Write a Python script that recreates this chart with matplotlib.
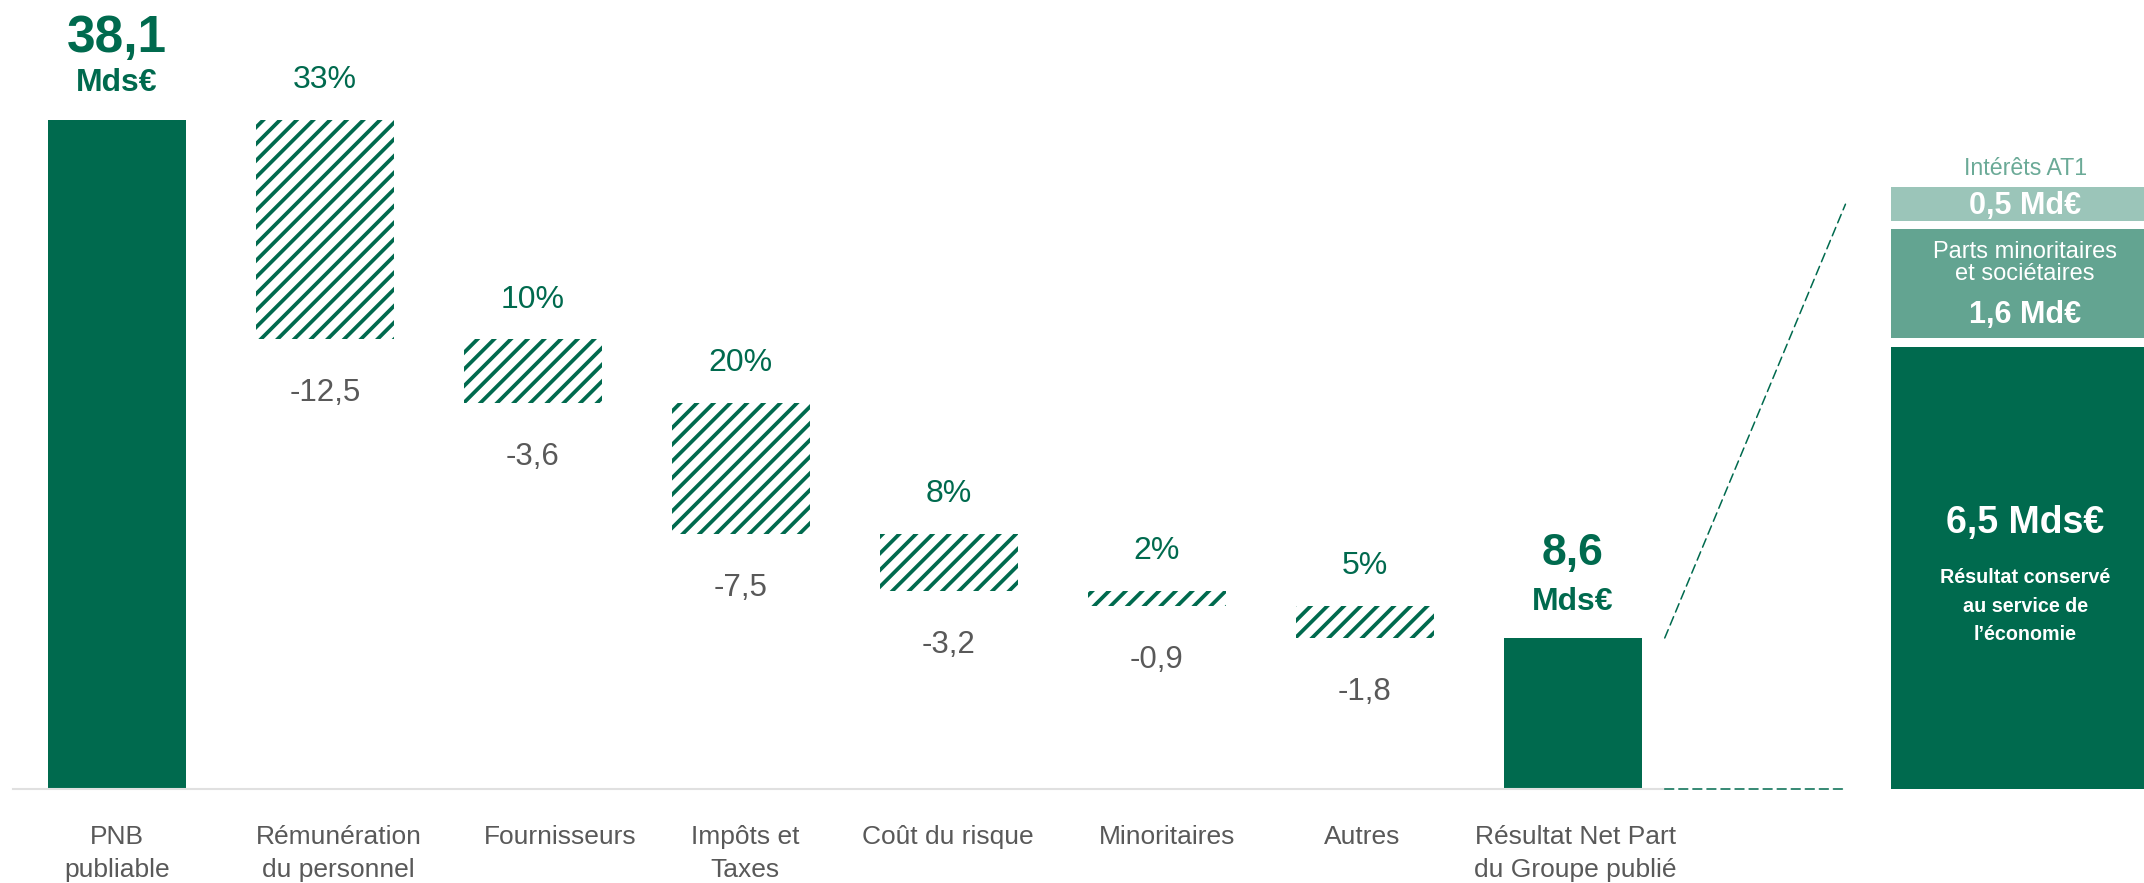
import numpy as np
import matplotlib
matplotlib.use("Agg")
import matplotlib.pyplot as plt
import matplotlib.transforms as mtransforms
from matplotlib.patches import ConnectionPatch

plt.rcParams['font.family'] = ['Liberation Sans', 'DejaVu Sans']
plt.rcParams['hatch.linewidth'] = 2.7

# data
categories = ["PNB\npubliable", "Rémunération\ndu personnel", "Fournisseurs",
              "Impôts et\nTaxes", "Coût du risque", "Minoritaires", "Autres",
              "Résultat Net Part\ndu Groupe publié"]
pnb = 38.1
charges = [-12.5, -3.6, -7.5, -3.2, -0.9, -1.8]
shares = ["33%", "10%", "20%", "8%", "2%", "5%"]
rnpg = 8.6

split_values = [6.5, 1.6, 0.5]
split_amounts = ["6,5 Mds€", "1,6 Md€", "0,5 Md€"]
split_titles = ["Résultat conservé\nau service de\nl’économie",
                "Parts minoritaires\net sociétaires", "Intérêts AT1"]

GREEN = '#006A4E'
GREY = '#595959'
split_colors = [GREEN, '#63A491', '#9BC5B9']


def fr(v):
    return f"{v:.1f}".replace('.', ',')


W, H = 2144, 883
fig = plt.figure(figsize=(W / 100, H / 100), dpi=100)
base_px = 789

# main waterfall
ax = fig.add_axes([12.9 / W, (H - base_px) / H, 1872 / W, base_px / H])
ax.set_xlim(-0.5, 8.5)
ax.set_ylim(0, base_px / 17.56)
bw = 0.663
x = np.arange(len(categories))

levels = pnb + np.concatenate([[0], np.cumsum(charges)])
ax.bar(x[0], pnb, width=bw, color=GREEN)
ax.bar(x[1:7], -np.array(charges), bottom=levels[1:], width=bw,
       facecolor='white', edgecolor=GREEN, hatch='//', linewidth=0)
ax.bar(x[7], rnpg, width=bw, color=GREEN)

for xi, top, bot, s, v in zip(x[1:7], levels[:-1], levels[1:], shares, charges):
    ax.annotate(s, (xi, top), xytext=(0, 23), textcoords='offset points',
                ha='center', va='baseline', fontsize=23, color=GREEN)
    ax.annotate(fr(v), (xi, bot), xytext=(0, -44.6), textcoords='offset points',
                ha='center', va='baseline', fontsize=22.5, color=GREY)

for xi, val, off, fs in [(x[0], pnb, 49, 37), (x[7], rnpg, 52.5, 32)]:
    ax.annotate(fr(val), (xi, val), xytext=(0, off), textcoords='offset points',
                ha='center', va='baseline', fontsize=fs, color=GREEN,
                fontweight='bold')
    ax.annotate("Mds€", (xi, val), xytext=(0, 20.5), textcoords='offset points',
                ha='center', va='baseline', fontsize=23, color=GREEN,
                fontweight='bold')

ax.set_xticks(x)
ax.set_xticklabels(categories, fontsize=19, color=GREY, linespacing=1.45)
ax.tick_params(axis='x', length=0, pad=26)
# the text boxes under some bars sit a little off-centre in the original
label_shift = [0, 10, 19.5, 3, -1, 7, -2, 2]
for lab, dx in zip(ax.get_xticklabels(), label_shift):
    lab.set_transform(lab.get_transform() +
                      mtransforms.ScaledTranslation(dx / 72, 0, fig.dpi_scale_trans))
ax.set_yticks([])
for s in ['top', 'left', 'right']:
    ax.spines[s].set_visible(False)
ax.spines['bottom'].set_color('#E0E0E0')
ax.spines['bottom'].set_linewidth(1.5)
ax.spines['bottom'].set_bounds(-0.5, 7.44)

# split of the result
ax2 = fig.add_axes([1891 / W, (H - base_px) / H, (W - 1891) / W, base_px / H])
ax2.set_xlim(0, 1)
ax2.set_ylim(0, base_px / 68)
ax2.axis('off')
gap = 0.13
bottoms2 = np.concatenate([[0], np.cumsum(split_values)[:-1]]) + gap * np.arange(3)
ax2.bar(0.53, split_values, bottom=bottoms2, width=1.06, color=split_colors)
mids = bottoms2 + np.array(split_values) / 2
cx = 0.53

ax2.annotate(split_amounts[0], (cx, mids[0]), xytext=(0, 25), textcoords='offset points',
             ha='center', va='baseline', fontsize=27, color='white', fontweight='bold')
ax2.annotate(split_titles[0], (cx, mids[0]), xytext=(0, 0), textcoords='offset points',
             ha='center', va='top', fontsize=14.2, color='white', fontweight='bold',
             linespacing=1.65)
ax2.annotate(split_titles[1], (cx, mids[1]), xytext=(0, 30.5), textcoords='offset points',
             ha='center', va='top', fontsize=17, color='white', linespacing=1.0)
ax2.annotate(split_amounts[1], (cx, mids[1]), xytext=(0, -28.5), textcoords='offset points',
             ha='center', va='baseline', fontsize=22, color='white', fontweight='bold')
ax2.annotate(split_amounts[2], (cx, mids[2]), xytext=(0, -7.8), textcoords='offset points',
             ha='center', va='baseline', fontsize=22, color='white', fontweight='bold')
ax2.annotate(split_titles[2], (cx, bottoms2[2] + split_values[2]), xytext=(0, 8.5),
             textcoords='offset points', ha='center', va='baseline', fontsize=16.7,
             color='#6BAA97')

# dashed connectors
x_start = x[7] + bw / 2 + 0.11
for ya, yb in [(0, 0), (rnpg, sum(split_values))]:
    con = ConnectionPatch(xyA=(x_start, ya), coordsA=ax.transData,
                          xyB=(-0.18, yb), coordsB=ax2.transData,
                          color=GREEN, lw=1.1, linestyle=(0, (5.9, 3.3)))
    fig.add_artist(con)

fig.savefig("out.png", dpi=100, facecolor='white')
